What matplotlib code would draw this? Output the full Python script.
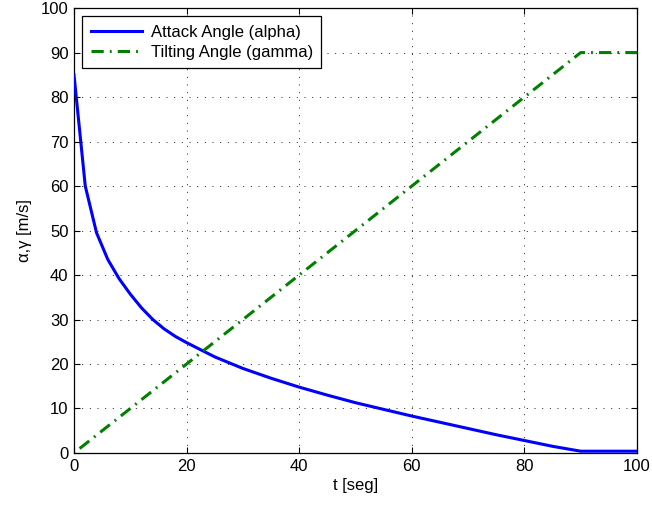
import matplotlib
matplotlib.use('Agg')
import matplotlib.pyplot as plt

plt.rcParams['font.family'] = ['Liberation Sans', 'DejaVu Sans']
plt.rcParams['font.size'] = 12

# attack angle (alpha)
t_alpha = [0, 2, 4, 6, 8, 10, 12, 14, 16, 18, 20, 25, 30, 35, 40, 45, 50,
           55, 60, 65, 70, 75, 80, 85, 90, 100]
alpha = [85, 60, 49.5, 43.5, 39.2, 35.7, 32.6, 30.0, 27.9, 26.2, 24.8, 21.6,
         19, 16.8, 14.8, 13, 11.3, 9.8, 8.3, 6.9, 5.5, 4.1, 2.8, 1.5, 0.4, 0.4]

# tilting angle (gamma)
t_gamma = [1, 90, 100]
gamma = [1, 90, 90]

x_ticks = [0, 20, 40, 60, 80, 100]
y_ticks = [0, 10, 20, 30, 40, 50, 60, 70, 80, 90, 100]

fig = plt.figure(figsize=(6.52, 5.05), dpi=100)
ax = fig.add_axes([0.1135, 0.103, 0.8635, 0.881])

ax.plot(t_alpha, alpha, color='#0000ff', linewidth=2.2,
        label='Attack Angle (alpha)', zorder=3)
ax.plot(t_gamma, gamma, color='#008000', linewidth=2.2,
        dashes=(4, 2, 0.6, 2), label='Tilting Angle (gamma)', zorder=3)

ax.set_xlim(0, 100)
ax.set_ylim(0, 100)
ax.set_xticks(x_ticks)
ax.set_yticks(y_ticks)

ax.grid(True, color='black', linewidth=0.6, dashes=(1.2, 8))
ax.tick_params(direction='in', length=4, width=0.8, top=True, right=True,
               labelsize=12, pad=4)
for s in ax.spines.values():
    s.set_linewidth(0.9)

ax.set_xlabel('t [seg]', fontsize=12, labelpad=3)
ax.set_ylabel('α,γ [m/s]', fontsize=12, labelpad=6)

leg = ax.legend(loc='upper left', fontsize=12, handlelength=3.1,
                fancybox=False, framealpha=1, borderaxespad=0.5,
                borderpad=0.5, labelspacing=0.3, handletextpad=0.5)
leg.get_frame().set_edgecolor('black')
leg.get_frame().set_linewidth(0.9)

fig.savefig('out.png', dpi=100)
